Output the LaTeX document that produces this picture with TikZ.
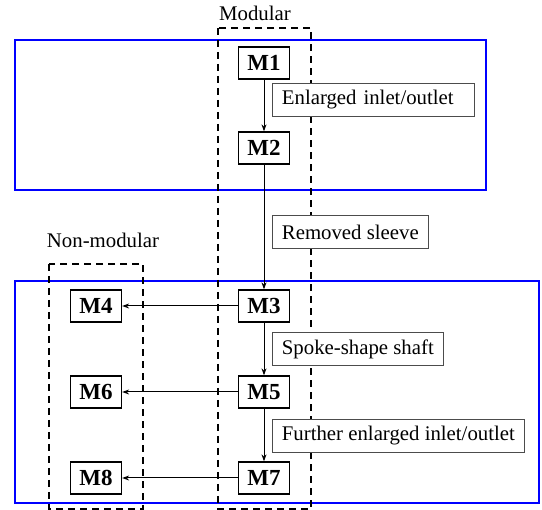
\documentclass[tikz,border=0pt]{standalone}
\usepackage{fontspec}
\setmainfont{Liberation Serif}
\usetikzlibrary{arrows.meta}
\begin{document}
\begin{tikzpicture}[x=1pt,y=-1pt,
  model/.style={draw, fill=white, line width=1.3pt, font=\fontsize{23}{26}\selectfont\bfseries, minimum width=51pt, minimum height=32pt, inner sep=0pt},
  change/.style={draw=black!70, fill=white, line width=0.8pt, font=\fontsize{20.8}{24}\selectfont, minimum height=33pt, inner xsep=9.5pt, anchor=west},
  group/.style={draw=blue, line width=1.6pt},
  family/.style={draw, line width=1.6pt, dash pattern=on 7pt off 5pt},
  link/.style={-{Stealth[length=7pt,width=5pt]}, line width=1pt}]
\useasboundingbox (0,0) rectangle (542,510);
% blue groups
\draw[group] (15,40) rectangle (486,190);
\draw[group] (15,281) rectangle (539,503);
% dashed families
\draw[family] (218,28) rectangle (311,509);
\draw[family] (49,264) rectangle (143,509);
\node[font=\fontsize{20.8}{24}\selectfont] (modular) at (255,13) {Modular};
\node[font=\fontsize{20.8}{24}\selectfont] (nonmodular) at (103,240) {Non-modular};
% models
\node[model] (m1) at (264,63) {M1};
\node[model] (m2) at (264,148) {M2};
\foreach \a/\b/\y in {3/4/306,5/6/392,7/8/478} {
  \node[model] (m\a) at (264,\y) {M\a};
  \node[model] (m\b) at (96,\y) {M\b};
  \draw[link] (m\a) -- (m\b);
}
\draw[link] (m1) -- (m2);
\draw[link] (m2) -- (m3);
\draw[link] (m3) -- (m5);
\draw[link] (m5) -- (m7);
% changes
\node[change, minimum width=202pt, align=left, text width=183pt] (c12) at (272,99.5) {Enlarged inlet/outlet};
\node[change] (c23) at (272,232) {Removed sleeve};
\node[change] (c35) at (272,349) {Spoke-shape shaft};
\node[change] (c57) at (272,436) {Further enlarged inlet/outlet};
\end{tikzpicture}
\end{document}
